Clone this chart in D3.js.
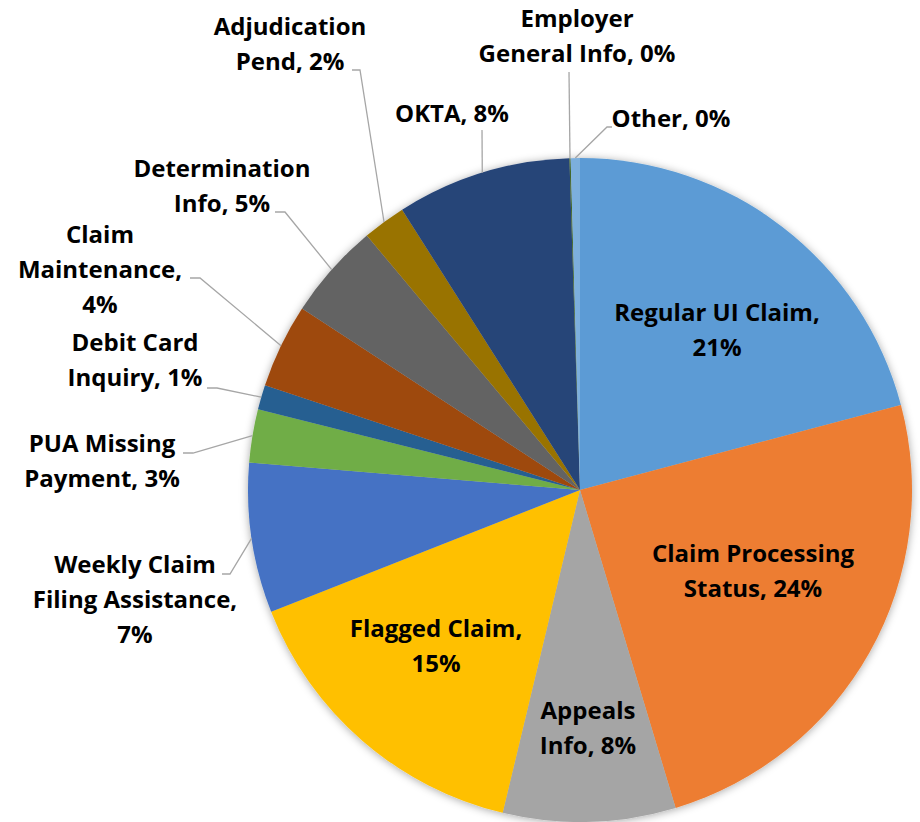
<!DOCTYPE html>
<html><head><meta charset="utf-8">
<script src="https://cdn.jsdelivr.net/npm/d3@7"></script>
<style>body{margin:0;background:#fff}svg{display:block}</style>
</head><body>
<svg id="chart" width="920" height="822"></svg>
<script>
const categories = ["Regular UI Claim","Claim Processing Status","Appeals Info","Flagged Claim","Weekly Claim Filing Assistance","PUA Missing Payment","Debit Card Inquiry","Claim Maintenance","Determination Info","Adjudication Pend","OKTA","Employer General Info","Other"];
const values = [20.9,24.5,8.4,15.3,7.3,2.6,1.2,4.1,4.7,2.1,8.5,0.06,0.45];
const percentLabels = ["21%","24%","8%","15%","7%","3%","1%","4%","5%","2%","8%","0%","0%"];
const colors = ["#5B9BD5","#ED7D31","#A5A5A5","#FFC000","#4472C4","#70AD47","#255E91","#9E480E","#636363","#997300","#264478","#43682B","#7CAFDD"];
// label text lines and layout (x center, first baseline, leader attach point or null)
const labelLines = [
  ["Regular UI Claim,","21%"],
  ["Claim Processing","Status, 24%"],
  ["Appeals","Info, 8%"],
  ["Flagged Claim,","15%"],
  ["Weekly Claim","Filing Assistance,","7%"],
  ["PUA Missing","Payment, 3%"],
  ["Debit Card","Inquiry, 1%"],
  ["Claim","Maintenance,","4%"],
  ["Determination","Info, 5%"],
  ["Adjudication","Pend, 2%"],
  ["OKTA, 8%"],
  ["Employer","General Info, 0%"],
  ["Other, 0%"]
];
const labelLayout = [
  {x:717,y:321,lead:null},
  {x:753,y:562,lead:null},
  {x:588,y:719,lead:null},
  {x:436,y:637,lead:null},
  {x:135,y:573,lead:[[222,574],[230,574]]},
  {x:102,y:452,lead:[[183,453],[193,453]]},
  {x:135,y:351,lead:[[207,388],[217,388]]},
  {x:100,y:243,lead:[[190,278],[200,278]]},
  {x:222,y:177,lead:[[275,212],[285,212]]},
  {x:290,y:35,lead:[[352,70],[360,70]]},
  {x:452,y:122,lead:[[482,130]]},
  {x:577,y:27,lead:[[569,72]]},
  {x:671,y:127,lead:[[612,127],[607,127]]}
];
const cx = 580, cy = 490, R = 332, lineH = 35;

const svg = d3.select("#chart");
const defs = svg.append("defs");
const f = defs.append("filter").attr("id","sh").attr("x","-20%").attr("y","-20%").attr("width","140%").attr("height","140%");
f.append("feDropShadow").attr("dx",0).attr("dy",1).attr("stdDeviation",4).attr("flood-color","#000").attr("flood-opacity",0.35);

const data = categories.map((c,i)=>({cat:c,value:values[i],i}));
const pie = d3.pie().sort(null).value(d=>d.value).startAngle(0).endAngle(2*Math.PI);
const arc = d3.arc().innerRadius(0).outerRadius(R);
const arcs = pie(data);

const g = svg.append("g").attr("transform",`translate(${cx},${cy})`);
g.append("g").attr("filter","url(#sh)").selectAll("path").data(arcs).join("path")
  .attr("d",arc).attr("fill",d=>colors[d.data.i]);

// leader lines
const leaders = svg.append("g").attr("fill","none").attr("stroke","#A6A6A6").attr("stroke-width",1.3);
arcs.forEach(a=>{
  const L = labelLayout[a.data.i];
  if(!L.lead) return;
  const mid = (a.startAngle+a.endAngle)/2;
  const ex = cx + R*Math.sin(mid), ey = cy - R*Math.cos(mid);
  const pts = L.lead.concat([[ex,ey]]);
  leaders.append("path").attr("d",d3.line()(pts));
});

const labels = svg.append("g").attr("font-family","'Open Sans', sans-serif").attr("font-weight","bold").attr("font-size",24).attr("fill","#000").attr("text-anchor","middle");
labelLines.forEach((lines,i)=>{
  const L = labelLayout[i];
  const t = labels.append("text").attr("x",L.x).attr("y",L.y);
  lines.forEach((s,j)=>t.append("tspan").attr("x",L.x).attr("y",L.y+j*lineH).text(s));
});
</script>
</body></html>
